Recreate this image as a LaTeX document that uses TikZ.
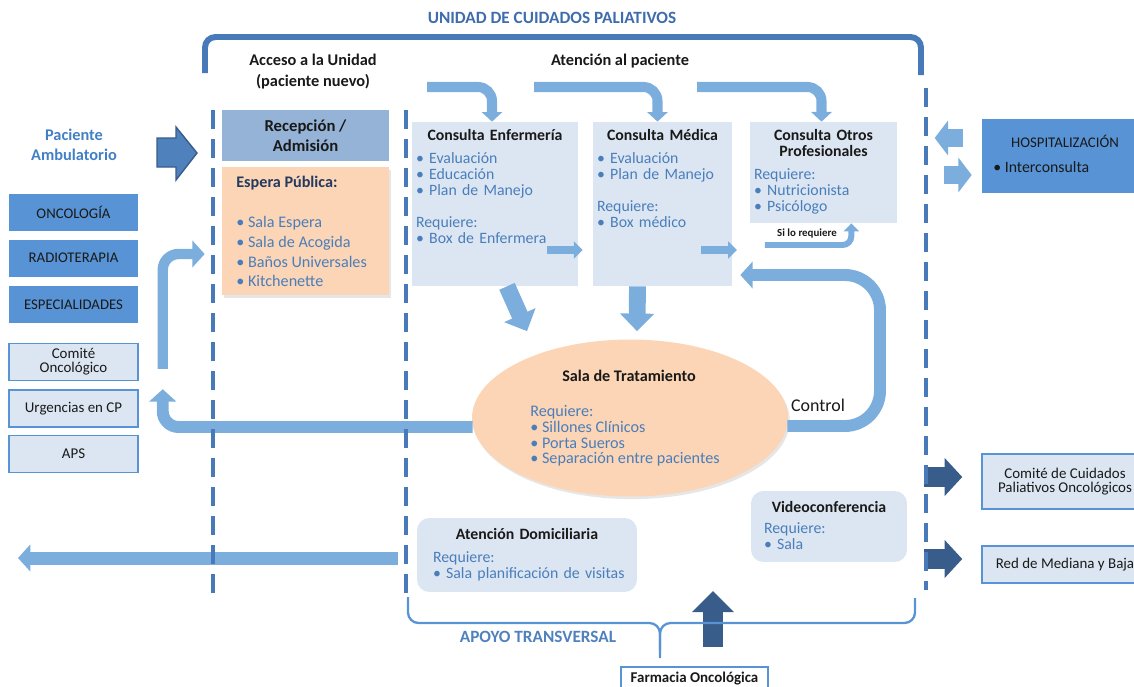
\documentclass[tikz,border=0pt]{standalone}
\usepackage{fontspec}
\setmainfont{Carlito}
\usetikzlibrary{arrows,arrows.meta,positioning,shapes,shadows}

\definecolor{marco}{RGB}{72,122,186}
\definecolor{titazul}{RGB}{62,108,172}
\definecolor{pacazul}{RGB}{66,128,198}
\definecolor{azulosc}{RGB}{56,93,138}
\definecolor{azulmed}{RGB}{79,129,189}
\definecolor{cajaazul}{RGB}{88,148,213}
\definecolor{flechaclara}{RGB}{124,174,221}
\definecolor{cajaclara}{RGB}{220,230,242}
\definecolor{recepcol}{RGB}{149,179,215}
\definecolor{melon}{RGB}{251,213,181}
\definecolor{textazul}{RGB}{74,126,187}
\definecolor{navy}{RGB}{36,58,96}
\definecolor{tinta}{RGB}{25,25,25}

\begin{document}
\begin{tikzpicture}[x=0.02cm, y=-0.02cm, >=latex', inner sep=0pt, text=tinta,
    font=\fontsize{9}{9.1}\selectfont]
        \tikzstyle{servicio} = [fill=cajaazul, minimum width=2.58cm, minimum height=0.74cm, font=\fontsize{8.4}{9}\selectfont]
        \tikzstyle{externo} = [draw=cajaazul, line width=0.85pt, fill=cajaclara, minimum width=2.58cm, minimum height=0.74cm, align=center, font=\fontsize{8.5}{7.9}\selectfont]
        \tikzstyle{consulta} = [fill=cajaclara]
        \tikzstyle{redonda} = [fill=cajaclara, rounded corners=7pt]
        \tikzstyle{texto} = [anchor=north, align=left, text=textazul]
        \tikzstyle{negrita} = [font=\bfseries\fontsize{9.2}{9.1}\selectfont]
        \tikzstyle{titulo} = [font=\bfseries\fontsize{9.3}{11.9}\selectfont, align=center]
        \tikzstyle{flecha} = [draw=flechaclara, line width=6.8pt, -{Triangle[width=15pt,length=7pt]}]
        \tikzstyle{flechatop} = [draw=flechaclara, line width=5.7pt, -{Triangle[width=11.5pt,length=5.5pt]}, rounded corners=8pt]
        \tikzstyle{flechagr} = [draw=flechaclara, line width=9.6pt, -{Triangle[width=19pt,length=10pt]}]
        \tikzstyle{flechamed} = [draw=flechaclara, line width=4.5pt, -{Triangle[width=9.6pt,length=5pt]}]
        \tikzstyle{flechachica} = [draw=flechaclara, line width=3.4pt, -{Triangle[width=8.5pt,length=4.5pt]}]
        \tikzstyle{flechahosp} = [draw=flechaclara, line width=10.8pt, -{Triangle[width=19.5pt,length=7.6pt]}]
        \tikzstyle{flechaosc} = [draw=azulosc, line width=11pt, -{Triangle[width=21pt,length=10pt]}]
        \tikzstyle{guion} = [draw=marco, line width=2.3pt, dash pattern=on 11pt off 5.5pt]
        \tikzstyle{llave} = [draw=cajaazul, line width=1.3pt, rounded corners=6pt]
        \newcommand{\cabeza}[1]{\makebox[\linewidth]{\bfseries\textcolor{tinta}{#1}}\par}

        \useasboundingbox (0,0) rectangle (1134,687);
        \clip (0,0) rectangle (1134,687);

        % la unidad
        \node [font=\bfseries\fontsize{9.8}{12}\selectfont, text=titazul] (unidad) at (552,18) {UNIDAD DE CUIDADOS PALIATIVOS};
        \draw [marco, line width=3.4pt, rounded corners=6pt] (205,73) -- (205,37) -- (921,37) -- (921,75);
        \node [titulo] (acceso) at (313,71.5) {Acceso a la Unidad\\(paciente nuevo)};
        \node [titulo] (atencion) at (620,61) {Atención al paciente};

        % columna izquierda
        \node [titulo, text=pacazul, font=\bfseries\fontsize{9.3}{11.3}\selectfont] (paciente) at (74,145) {Paciente\\Ambulatorio};
        \filldraw [fill=azulmed, draw=azulosc, line width=0.8pt] (157,138) -- (176,138) -- (176,127) -- (197,153) -- (176,180) -- (176,167) -- (157,167) -- cycle;
        \node [servicio] (onco) at (73.5,212.5) {ONCOLOGÍA};
        \node [servicio, below=0.16cm of onco] (radio) {RADIOTERAPIA};
        \node [servicio, below=0.18cm of radio] (espec) {ESPECIALIDADES};
        \node [externo, below=0.38cm of espec] (comite) {Comité\\Oncológico};
        \node [externo, below=0.16cm of comite] (urg) {Urgencias en CP};
        \node [externo, below=0.14cm of urg] (aps) {APS};

        % acceso
        \node [fill=recepcol, minimum width=3.34cm, minimum height=1.02cm, align=center, font=\bfseries\fontsize{9.5}{11.3}\selectfont] (recep) at (305.5,135.5) {Recepción /\\Admisión};
        \node [fill=melon, minimum width=3.34cm, minimum height=2.56cm, drop shadow={opacity=0.2, shadow xshift=1pt, shadow yshift=-1.5pt}] (espera) at (305.5,231) {};
        \node [anchor=north west, align=left, text=textazul, font=\fontsize{9.2}{11.3}\selectfont] (esperatxt) at (236,176) {\textcolor{navy}{\bfseries Espera Pública:}\\[11.3pt] • Sala Espera\\ • Sala de Acogida\\ • Baños Universales\\ • Kitchenette};

        % consultas
        \node [consulta, minimum width=3.32cm, minimum height=3.28cm] (enf) at (495,204) {};
        \node [consulta, minimum width=2.78cm, minimum height=3.28cm] (med) at (662.5,204) {};
        \node [consulta, minimum width=2.94cm, minimum height=2.02cm] (otros) at (823.5,172.5) {};
        \node [texto, text width=3.16cm] (enftxt) at (495,129) {\cabeza{Consulta Enfermería}\vspace{3.9pt}
            • Evaluación\\ • Educación\\ • Plan de Manejo\\[9.1pt] Requiere:\\ • Box de Enfermera};
        \node [texto, text width=2.62cm] (medtxt) at (662.5,129) {\cabeza{Consulta Médica}\vspace{3.9pt}
            • Evaluación\\ • Plan de Manejo\\[9.1pt] Requiere:\\ • Box médico};
        \node [texto, text width=2.78cm] (otrostxt) at (823.5,129) {\cabeza{Consulta Otros}\cabeza{Profesionales}\vspace{3.9pt}
            Requiere:\\ • Nutricionista\\ • Psicólogo};

        % sala de tratamiento
        \node [ellipse, fill=melon, minimum width=6.32cm, minimum height=3.14cm, drop shadow={opacity=0.2, shadow xshift=1pt, shadow yshift=-1.5pt}] (tto) at (630,418) {};
        \node [negrita] (ttotit) at (629,376) {Sala de Tratamiento};
        \node [anchor=west, align=left, text=textazul, font=\fontsize{9.2}{8.9}\selectfont] (ttotxt) at (530,436) {Requiere:\\• Sillones Clínicos\\• Porta Sueros\\• Separación entre pacientes};

        % apoyo
        \node [redonda, minimum width=4.4cm, minimum height=1.48cm] (dom) at (527,555) {};
        \node [texto, text width=3.76cm] (domtxt) at (527,528) {\cabeza{Atención Domiciliaria}\vspace{3.9pt}
            Requiere:\\ \mbox{• Sala planificación de visitas}};
        \node [redonda, minimum width=3.12cm, minimum height=1.42cm] (video) at (829,526.5) {};
        \node [texto, text width=2.6cm] (videotxt) at (829,501) {\cabeza{Videoconferencia}\vspace{3pt}
            Requiere:\\ • Sala};
        \node [font=\bfseries\fontsize{9.8}{12}\selectfont, text=azulmed] (apoyo) at (538,637) {APOYO TRANSVERSAL};
        \node [draw=cajaazul, line width=0.85pt, fill=white, anchor=north, minimum width=2.94cm, inner ysep=3pt, font=\bfseries\fontsize{8.5}{9}\selectfont] (farm) at (694.5,666) {Farmacia Oncológica};

        % derecha
        \node [fill=cajaazul, minimum width=3.32cm, minimum height=1.48cm] (hosp) at (1065,156) {};
        \node [font=\fontsize{8.4}{9}\selectfont] (hosptit) at (1065,141) {HOSPITALIZACIÓN};
        \node [anchor=west] (hospint) at (993,167) {• Interconsulta};
        \node [externo, minimum width=3.32cm, minimum height=1.1cm] (comcp) at (1065,481.5) {Comité de Cuidados\\Paliativos Oncológicos};
        \node [externo, minimum width=3.32cm] (red) at (1065,564.5) {Red de Mediana y Baja};

        % flechas
        \coordinate (ini1) at (427,87);
        \coordinate (ini2) at (534,87);
        \coordinate (ini3) at (697,87);
        \draw [flechatop] (ini1) -| ([shift={(-3,0)}]enf.north);
        \draw [flechatop] (ini2) -| ([shift={(-5,0)}]med.north);
        \draw [flechatop] (ini3) -| ([shift={(-2,0)}]otros.north);
        \draw [flechamed] ([shift={(-31,46)}]enf.east) -- ([shift={(-10,46)}]med.west);
        \draw [flechamed] ([shift={(-31.5,46)}]med.east) -- ([shift={(4.5,46)}]med.east);
        \draw [flechachica, rounded corners=5pt] ([shift={(32.5,41)}]med.east) -| ([shift={(-46,0)}]otros.south east);
        \node [font=\bfseries\fontsize{6.2}{7}\selectfont] (silo) at (807,234) {Si lo requiere};
        \draw [flechagr] ([shift={(12,0)}]enf.south) -- ([shift={(-103,-8)}]tto.north);
        \draw [flechagr] ([shift={(-25,0)}]med.south) -- ([shift={(7,-8)}]tto.north);
        \draw [flecha, rounded corners=20pt] ([shift={(-1,8)}]tto.east) -- (880,426) -- (880,275) -- ([shift={(8,71)}]med.east);
        \node [font=\fontsize{10.2}{12}\selectfont] (control) at (818,405) {Control};
        \draw [flecha, rounded corners=9pt] ([shift={(1,9)}]tto.west) -| ([shift={(24,0)}]urg.north east);
        \draw [flecha, line width=5.9pt, rounded corners=9pt] ([shift={(24,7)}]comite.east) |- ([shift={(-17,23)}]espera.west);
        \coordinate (fuera) at (18,558);
        \draw [flecha, line width=7.4pt] ([shift={(-19,3)}]dom.west) -- (fuera);
        \draw [flechaosc, line width=11.9pt, -{Triangle[width=23pt,length=12pt]}] ([shift={(18.5,-19)}]farm.north) -- ++(0,-56);
        \draw [flechahosp] ([shift={(-19,-18)}]hosp.west) -- ++(-28,0);
        \draw [flechahosp] ([shift={(-38,19)}]hosp.west) -- ++(28,0);
        \draw [flechaosc] ([shift={(-57,-4.5)}]comcp.west) -- ([shift={(-19,-4.5)}]comcp.west);
        \draw [flechaosc] ([shift={(-57,-5.5)}]red.west) -- ([shift={(-19,-5.5)}]red.west);

        % llave de apoyo transversal
        \draw [llave] (408,597) -- (408,623) -- (660,623) -- (660,658);
        \draw [llave] (915,598) -- (915,623) -- (660,623) -- (660,650);

        % limites
        \draw [guion] (213,110) -- (213,600);
        \draw [guion] (406,110) -- (406,598);
        \draw [guion] (926,88) -- (926,590);
    \end{tikzpicture}
\end{document}
